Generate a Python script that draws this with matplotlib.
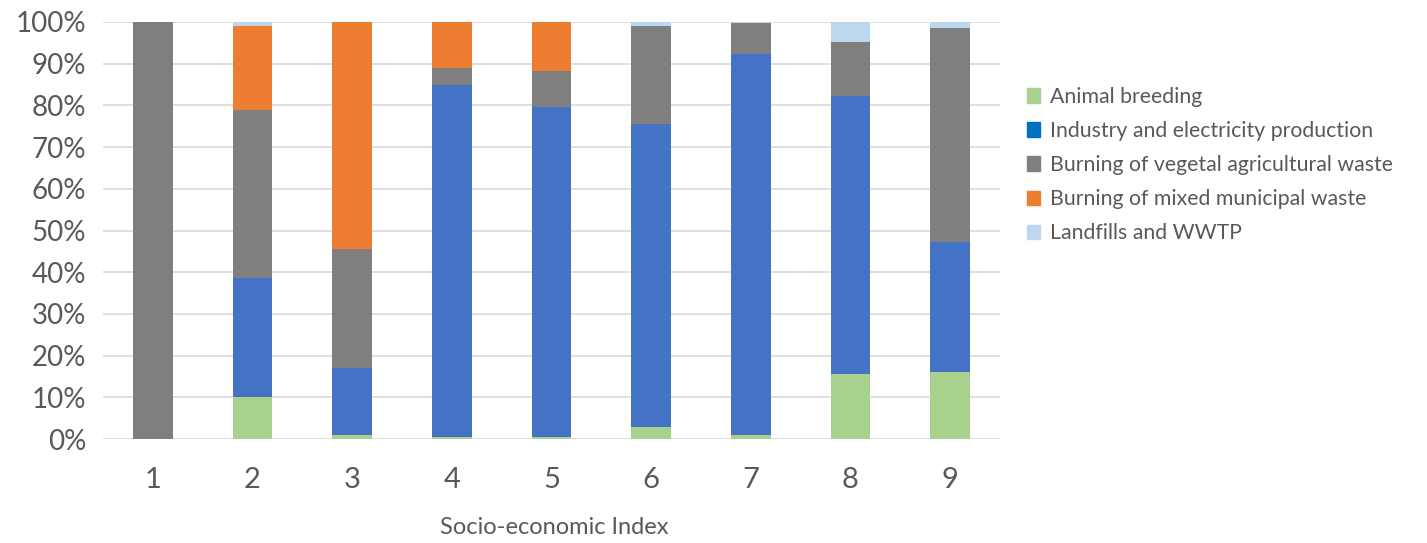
import numpy as np
import matplotlib.pyplot as plt
from matplotlib.patches import Patch

plt.rcParams['font.family'] = ['Lato', 'DejaVu Sans']

#datos
indices = ["1", "2", "3", "4", "5", "6", "7", "8", "9"]
series = ["Animal breeding", "Industry and electricity production",
          "Burning of vegetal agricultural waste", "Burning of mixed municipal waste",
          "Landfills and WWTP"]
animal = [0, 10.0, 1.0, 0.5, 0.5, 2.8, 1.0, 15.6, 16.0]
industria = [0, 28.6, 16.0, 84.5, 79.0, 72.7, 91.3, 66.7, 31.2]
vegetal = [100, 40.3, 28.5, 4.0, 8.7, 23.5, 7.4, 13.0, 51.4]
municipal = [0, 20.1, 54.5, 11.0, 11.8, 0, 0, 0, 0]
landfills = [0, 1.0, 0, 0, 0, 1.0, 0.3, 4.7, 1.4]

colores = ["#A9D18E", "#4472C4", "#7F7F7F", "#ED7D31", "#BDD7EE"]
colores_leyenda = ["#A9D18E", "#0070C0", "#808080", "#ED7D31", "#BDD7EE"]
texto = "#595959"

fig = plt.figure(figsize=(14.27, 5.43), dpi=100)
ax = fig.add_axes([0.0722, 0.1915, 0.6286, 0.768])

x = np.arange(len(indices))
abajo = np.zeros(len(indices))
for datos, c in zip([animal, industria, vegetal, municipal, landfills], colores):
    ax.bar(x, datos, 0.4, bottom=abajo, color=c, zorder=3)
    abajo += np.array(datos)

ax.set_xlim(-0.5, len(indices) - 0.5)
ax.set_ylim(0, 100)
ax.set_yticks(np.arange(0, 101, 10))
ax.set_yticklabels([f"{v}%" for v in range(0, 101, 10)])
ax.set_xticks(x)
ax.set_xticklabels(indices)
ax.grid(axis="y", color="#D9D9D9", linewidth=1.2, zorder=0)
for s in ["top", "right", "left", "bottom"]:
    ax.spines[s].set_visible(False)
ax.tick_params(length=0, colors=texto)
ax.tick_params(axis="y", labelsize=20, pad=12)
ax.tick_params(axis="x", labelsize=21, pad=20)
ax.set_xlabel("Socio-economic Index", fontsize=17, color=texto, va="center")
ax.xaxis.set_label_coords(0.503, -0.213)

handles = [Patch(color=c) for c in colores_leyenda]
fig.legend(handles, series, loc="upper left", bbox_to_anchor=(0.706, 0.875),
           frameon=False, fontsize=15.3, labelcolor=texto, handlelength=0.65,
           handleheight=0.65, handletextpad=0.45, labelspacing=0.66)

plt.savefig("out.png", dpi=100)
